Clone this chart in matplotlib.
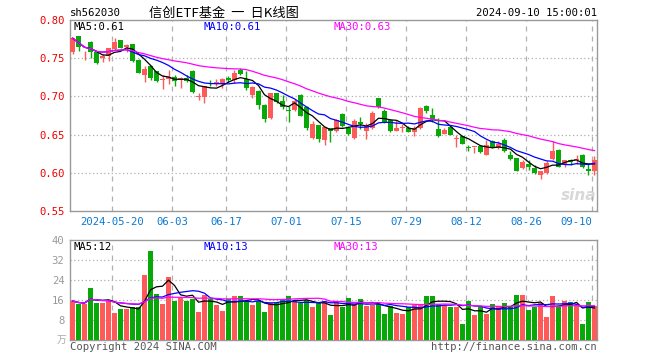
import numpy as np
import pandas as pd
import matplotlib
matplotlib.use("Agg")
import matplotlib.pyplot as plt

# 信创ETF (sh562030) 日K数据，2024-05-09 ~ 2024-09-10
opens = [0.7575, 0.7787, 0.751, 0.7717, 0.7575, 0.7509, 0.7531, 0.762, 0.7734, 0.765,
         0.768, 0.748, 0.7283, 0.7398, 0.7327, 0.722, 0.7222, 0.7257, 0.7213, 0.724,
         0.7336, 0.6996, 0.6987, 0.7175, 0.718, 0.7164, 0.724, 0.7217, 0.734, 0.7226,
         0.7017, 0.7074, 0.6891, 0.6717, 0.7043, 0.6939, 0.6806, 0.6822, 0.7017, 0.6865,
         0.6452, 0.6626, 0.643, 0.6583, 0.6552, 0.677, 0.6583, 0.6452, 0.667, 0.6552,
         0.6583, 0.6974, 0.6804, 0.6691, 0.6552, 0.6585, 0.6583, 0.6539, 0.658, 0.6878,
         0.6761, 0.6574, 0.6509, 0.6596, 0.6443, 0.6478, 0.6335, 0.6333, 0.6348, 0.6239,
         0.6413, 0.6326, 0.6435, 0.6239, 0.6196, 0.6065, 0.6109, 0.6057, 0.5965, 0.600,
         0.6183, 0.6304, 0.6096, 0.6161, 0.6172, 0.6239, 0.6052, 0.6022]
highs = [0.778, 0.779, 0.760, 0.772, 0.760, 0.7557, 0.764, 0.777, 0.774, 0.769,
         0.769, 0.749, 0.7398, 0.7416, 0.733, 0.7275, 0.7345, 0.7275, 0.725, 0.7275,
         0.734, 0.704, 0.714, 0.721, 0.723, 0.724, 0.727, 0.734, 0.7372, 0.7335,
         0.713, 0.708, 0.690, 0.705, 0.705, 0.7017, 0.6878, 0.6965, 0.703, 0.687,
         0.6682, 0.663, 0.660, 0.659, 0.671, 0.678, 0.6617, 0.670, 0.6726, 0.665,
         0.6813, 0.698, 0.6835, 0.6704, 0.6687, 0.6639, 0.6617, 0.6617, 0.686, 0.689,
         0.6848, 0.6717, 0.658, 0.663, 0.650, 0.650, 0.637, 0.634, 0.636, 0.6435,
         0.643, 0.641, 0.645, 0.6283, 0.620, 0.6174, 0.6165, 0.6096, 0.603, 0.6152,
         0.642, 0.631, 0.6174, 0.6183, 0.6239, 0.625, 0.6109, 0.6226]
lows = [0.756, 0.759, 0.747, 0.7504, 0.742, 0.745, 0.746, 0.761, 0.763, 0.7575,
        0.745, 0.730, 0.7195, 0.722, 0.7186, 0.7098, 0.7164, 0.714, 0.7115, 0.7195,
        0.704, 0.6956, 0.692, 0.714, 0.713, 0.7107, 0.7186, 0.7177, 0.728, 0.709,
        0.6974, 0.6835, 0.666, 0.6704, 0.692, 0.6835, 0.666, 0.681, 0.674, 0.6565,
        0.644, 0.640, 0.637, 0.6409, 0.654, 0.660, 0.6496, 0.6445, 0.657, 0.6443,
        0.657, 0.685, 0.665, 0.654, 0.6545, 0.6539, 0.653, 0.6487, 0.657, 0.678,
        0.6661, 0.6465, 0.6505, 0.649, 0.634, 0.6374, 0.628, 0.6261, 0.626, 0.623,
        0.632, 0.631, 0.627, 0.6174, 0.602, 0.605, 0.6043, 0.5978, 0.5922, 0.599,
        0.617, 0.607, 0.608, 0.6096, 0.612, 0.606, 0.5965, 0.5965]
closes = [0.776, 0.765, 0.752, 0.7575, 0.744, 0.7531, 0.7628, 0.7708, 0.7637, 0.767,
          0.746, 0.731, 0.7354, 0.724, 0.7204, 0.7225, 0.7248, 0.7204, 0.724, 0.7204,
          0.7054, 0.700, 0.7133, 0.7168, 0.7186, 0.723, 0.7217, 0.7305, 0.7288, 0.7104,
          0.7126, 0.6887, 0.6704, 0.7039, 0.693, 0.6857, 0.6804, 0.6943, 0.6748, 0.6587,
          0.6639, 0.6443, 0.6596, 0.6552, 0.6696, 0.6617, 0.6509, 0.6683, 0.6635, 0.6617,
          0.6778, 0.6857, 0.6661, 0.6552, 0.6587, 0.659, 0.6539, 0.6583, 0.685, 0.6804,
          0.6704, 0.6478, 0.6565, 0.650, 0.6448, 0.6383, 0.633, 0.6338, 0.6274, 0.637,
          0.6326, 0.6383, 0.6283, 0.6183, 0.603, 0.6139, 0.6074, 0.600, 0.6022, 0.6122,
          0.6283, 0.6078, 0.6165, 0.6139, 0.6178, 0.6078, 0.6022, 0.6165]
volumes = [15.6, 14.4, 14.4, 20.8, 14.8, 14.8, 15.6, 10.8, 12.4, 12.4,
           13.2, 13.2, 26.0, 35.6, 18.4, 14.4, 25.2, 15.6, 16.8, 15.6,
           16.4, 11.2, 18.0, 16.4, 14.0, 11.6, 16.4, 17.6, 17.6, 15.6,
           14.0, 15.6, 11.2, 14.8, 14.8, 16.4, 17.6, 15.6, 14.8, 16.0,
           13.2, 14.8, 15.6, 10.0, 15.2, 13.2, 16.8, 14.4, 16.4, 13.6,
           14.0, 14.4, 10.4, 13.6, 10.8, 10.4, 13.2, 14.0, 14.0, 17.6,
           17.6, 14.4, 14.0, 13.2, 13.2, 6.4, 15.6, 10.0, 13.2, 10.4,
           14.4, 13.6, 14.8, 13.2, 18.0, 18.0, 12.0, 13.2, 14.8, 9.2,
           17.6, 13.2, 15.6, 15.2, 13.6, 6.4, 15.2, 13.6]

date_idx = [7, 17, 26, 36, 46, 56, 66, 76, 87]
date_labels = ["2024-05-20", "06-03", "06-17", "07-01", "07-15", "07-29", "08-12", "08-26", "09-10"]
price_ticks = [0.80, 0.75, 0.70, 0.65, 0.60, 0.55]
vol_ticks = [8, 16, 24, 32, 40]
ma_labels = ["MA5:0.61", "MA10:0.61", "MA30:0.63"]
vol_ma_labels = ["MA5:12", "MA10:13", "MA30:13"]

RED = "#ff5a5a"
GREEN = "#08a808"
GRID = "#b0b0b0"
BORDER = "#999999"
MONO = "DejaVu Sans Mono"
CJK = ["Noto Sans CJK SC", "DejaVu Sans"]
ma_colors = ["black", "#0000ff", "#ff00ff"]

o = np.array(opens); h = np.array(highs); l = np.array(lows); c = np.array(closes)
v = np.array(volumes)
x = np.arange(len(c))
up = c >= o
colors = np.where(up, RED, GREEN)

close_s = pd.Series(c)
vol_s = pd.Series(v)
ma_close = [close_s.rolling(n, min_periods=1).mean() for n in (5, 10, 30)]
ma_vol = [vol_s.rolling(n, min_periods=1).mean() for n in (5, 10, 30)]

W, H = 660, 360
fig = plt.figure(figsize=(6.6, 3.6), dpi=100)
ax = fig.add_axes([70 / W, 1 - 211 / H, 527 / W, 191 / H])
axv = fig.add_axes([70 / W, 1 - 340 / H, 527 / W, 100 / H])

xlim = (-2.5 / 6, 87 + 2.5 / 6)
grid_x = [i - 2.5 / 6 for i in date_idx]

# 主图：K线
ax.vlines(x, l, h, colors=colors, linewidth=1.0, zorder=3)
body_bottom = np.minimum(o, c)
body_h = np.maximum(np.abs(c - o), 0.0012)
ax.bar(x, body_h, bottom=body_bottom, width=0.82, color=colors, linewidth=0, zorder=4)
for ma, col in zip(ma_close, ma_colors):
    ax.plot(x, ma, color=col, linewidth=0.9, zorder=5)

ax.set_xlim(*xlim)
ax.set_ylim(0.55, 0.80)
for gy in [0.75, 0.70, 0.65, 0.60]:
    ax.axhline(gy, color=GRID, linestyle=(0, (1, 2)), linewidth=0.9, zorder=1)
for gx in grid_x:
    ax.axvline(gx, color=GRID, linestyle=(0, (4, 4)), linewidth=0.9, zorder=1)
ax.set_yticks(price_ticks)
ax.set_yticklabels([f"{t:.2f}" for t in price_ticks], color="#ee0000", family=MONO, fontsize=7.6)
ax.set_xticks(grid_x)
ax.set_xticklabels(date_labels, color="#0a78d2", family=MONO, fontsize=7.6)
for lab in ax.get_xticklabels()[-1:]:
    lab.set_ha("right")
ax.tick_params(length=0, pad=4)
for sp in ax.spines.values():
    sp.set_color(BORDER)
    sp.set_linewidth(1.0)

for txt, col, px in zip(ma_labels, ma_colors, [74, 204, 334]):
    ax.text((px - 70) / 527, 1 - 7 / 191, txt, transform=ax.transAxes, color=col,
            family=MONO, fontsize=7.6, va="center", ha="left")

# 水印
ax.text(0.965, 0.08, "sina", transform=ax.transAxes, color="#d8d8d8", fontsize=11,
        fontweight="bold", style="italic", ha="center", va="center", zorder=0)

# 成交量
axv.bar(x, v, width=0.82, color=colors, linewidth=0, zorder=3)
for ma, col in zip(ma_vol, ma_colors):
    axv.plot(x, ma, color=col, linewidth=0.9, zorder=5)
axv.set_xlim(*xlim)
axv.set_ylim(0, 40)
for gy in [8, 16, 24, 32]:
    axv.axhline(gy, color=GRID, linestyle=(0, (1, 2)), linewidth=0.9, zorder=1)
for gx in grid_x:
    axv.axvline(gx, color=GRID, linestyle=(0, (4, 4)), linewidth=0.9, zorder=1)
axv.set_yticks(vol_ticks)
axv.set_yticklabels([str(t) for t in vol_ticks], color="#999999", family=MONO, fontsize=7.6)
axv.set_xticks([])
axv.tick_params(length=0, pad=4)
for sp in axv.spines.values():
    sp.set_color(BORDER)
    sp.set_linewidth(1.0)
axv.text(-4 / 527, 0.0, "万", transform=axv.transAxes, color="#aaaaaa",
         family=CJK, fontsize=7, ha="right", va="center")
for txt, col, px in zip(vol_ma_labels, ma_colors, [74, 204, 334]):
    axv.text((px - 70) / 527, 1 - 7 / 100, txt, transform=axv.transAxes, color=col,
             family=MONO, fontsize=7.6, va="center", ha="left")

# 标题与版权
fig.text(70 / W, 1 - 13 / H, "sh562030", family=MONO, fontsize=7.6, va="center", ha="left")
fig.text(224 / W, 1 - 13 / H, "信创ETF基金  一  日K线图",
         family=CJK, fontsize=9.5, va="center", ha="center")
fig.text(597 / W, 1 - 13 / H, "2024-09-10 15:00:01", family=MONO, fontsize=7.6,
         va="center", ha="right")
fig.text(70 / W, 1 - 347 / H, "Copyright 2024 SINA.COM", family=MONO, fontsize=7.6,
         color="#555555", va="center", ha="left")
fig.text(597 / W, 1 - 347 / H, "http://finance.sina.com.cn", family=MONO, fontsize=7.6,
         color="#555555", va="center", ha="right")

fig.savefig("out.png", dpi=100)
